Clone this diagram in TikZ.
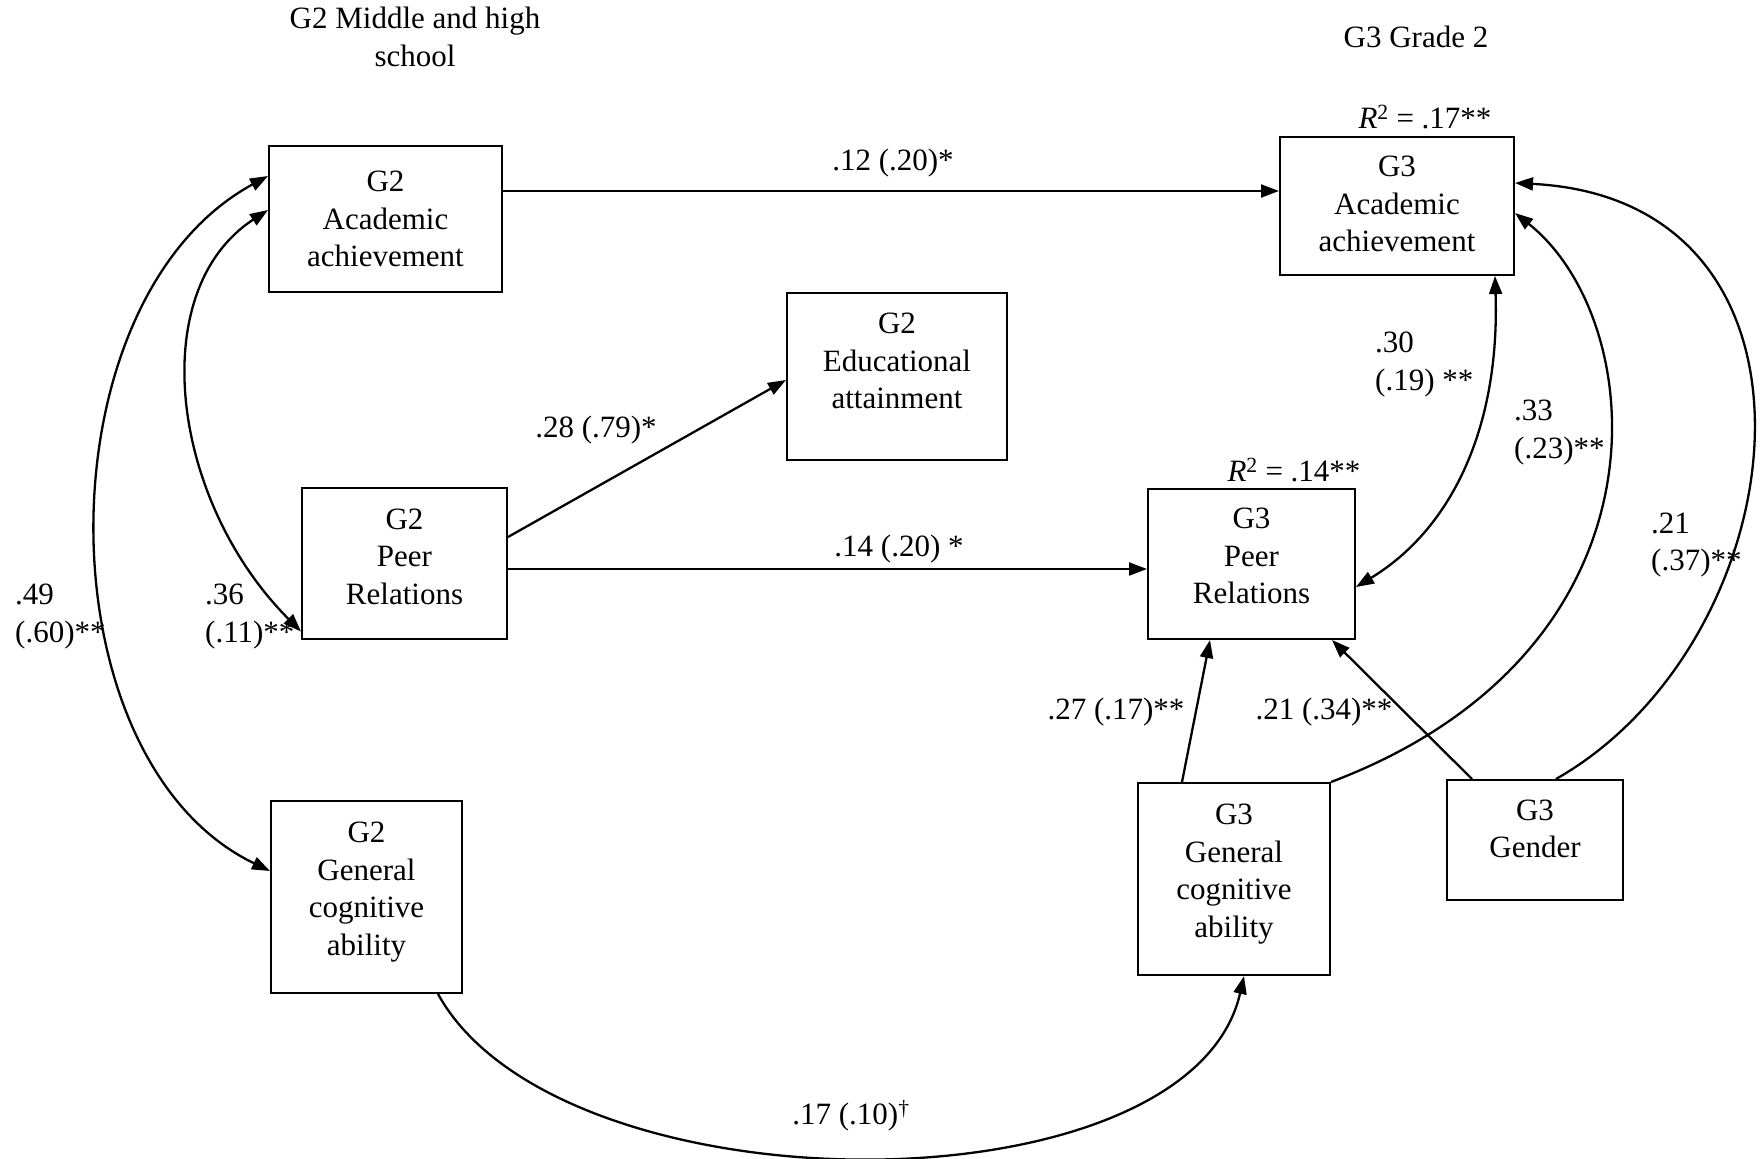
\documentclass[tikz,border=0pt]{standalone}
\usepackage{fontspec}
\setmainfont{Liberation Serif}
\usetikzlibrary{arrows.meta}
\begin{document}
\begin{tikzpicture}[x=1pt,y=-1pt,
  font=\fontsize{31pt}{37.5pt}\selectfont,
  box/.style={draw, line width=2pt, inner sep=0pt},
  txt/.style={inner sep=0pt, align=center},
  lab/.style={inner sep=0pt, align=left},
  arr/.style={line width=2.3pt, -{Triangle[length=18pt,width=13pt]}},
  darr/.style={line width=2.3pt, {Triangle[length=18pt,width=13pt]}-{Triangle[length=18pt,width=13pt]}}]
\useasboundingbox (0,0) rectangle (1762,1159);

% boxes
\node[box, minimum width=233, minimum height=146] (g2aa) at (385.5,219) {};
\node[box, minimum width=220, minimum height=167] (g2ea) at (897,376.5) {};
\node[box, minimum width=205, minimum height=151] (g2pr) at (404.5,563.5) {};
\node[box, minimum width=191, minimum height=192] (g2gc) at (366.5,897) {};
\node[box, minimum width=234, minimum height=138] (g3aa) at (1397,206) {};
\node[box, minimum width=207, minimum height=150] (g3pr) at (1251.5,564) {};
\node[box, minimum width=192, minimum height=192] (g3gc) at (1234,879) {};
\node[box, minimum width=176, minimum height=120] (g3g) at (1535,840) {};

% box texts
\node[txt] (g2aat) at (g2aa.center) {G2\\Academic\\achievement};
\node[txt] (g2eat) at ([yshift=15.5pt]g2ea.center) {G2\\Educational\\attainment};
\node[txt] (g2prt) at ([yshift=7pt]g2pr.center) {G2\\Peer\\Relations};
\node[txt] (g2gct) at ([yshift=5pt]g2gc.center) {G2\\General\\cognitive\\ability};
\node[txt] (g3aat) at ([yshift=2pt]g3aa.center) {G3\\Academic\\achievement};
\node[txt] (g3prt) at ([yshift=8pt]g3pr.center) {G3\\Peer\\Relations};
\node[txt] (g3gct) at ([yshift=5pt]g3gc.center) {G3\\General\\cognitive\\ability};
\node[txt] (g3gt) at ([yshift=11pt]g3g.center) {G3\\Gender};

% headings
\node[lab, align=center] (t1) at (415,37) {G2 Middle and high\\school};
\node[lab] (t2) at (1416,37) {G3 Grade 2};
\node[lab] (r2a) at (1425,117) {\textit{R}\textsuperscript{2} = .17**};
\node[lab] (r2b) at (1294,470) {\textit{R}\textsuperscript{2} = .14**};

% straight paths
\draw[arr] ([yshift=28pt]g2aa.east) -- ([yshift=15pt]g3aa.west);
\draw[arr] ([yshift=26.5pt]g2pr.east) -- ([yshift=-3.5pt]g2ea.west);
\draw[arr] ([yshift=-5.5pt]g2pr.east) -- ([yshift=-5pt]g3pr.west);
\draw[arr] ([xshift=-52pt]g3gc.north) -- ([xshift=-41.5pt]g3pr.south);
\draw[arr] ([xshift=-63pt]g3g.north) -- ([xshift=80.5pt]g3pr.south);

% curved paths
\draw[darr] ([yshift=43pt]g2aa.west) .. controls (40,300) and (40,760) .. ([yshift=26pt]g2gc.west);
\draw[darr] ([yshift=9pt]g2aa.west) .. controls (145,290) and (170,500) .. ([yshift=-68pt]g2pr.west);
\draw[arr] ([xshift=71.5pt]g2gc.south) .. controls (560,1215) and (1190,1215) .. ([xshift=10pt]g3gc.south);
\draw[darr] ([xshift=-20pt]g3aa.south east) .. controls (1500,430) and (1450,530) .. ([yshift=-23pt]g3pr.east);
\draw[arr] (g3gc.north east) .. controls (1680,650) and (1650,320) .. ([yshift=-7pt]g3aa.east);
\draw[arr] ([xshift=21pt]g3g.north) .. controls (1800,640) and (1850,200) .. ([yshift=23pt]g3aa.east);

% coefficient labels
\node[lab] (l12) at (893,163) {.12 (.20)*};
\node[lab] (l28) at (596,430) {.28 (.79)*};
\node[lab] (l14) at (899,549) {.14 (.20) *};
\node[lab, anchor=west] (l30) at (1375,364.5) {.30\\(.19) **};
\node[lab, anchor=west] (l33) at (1514,432.5) {.33\\(.23)**};
\node[lab, anchor=west] (l21b) at (1651,545) {.21\\(.37)**};
\node[lab, anchor=west] (l49) at (15,616.5) {.49\\(.60)**};
\node[lab, anchor=west] (l36) at (205,616.5) {.36\\(.11)**};
\node[lab] (l27) at (1116,712) {.27 (.17)**};
\node[lab] (l21a) at (1324,712) {.21 (.34)**};
\node[lab] (l17) at (851,1116) {.17 (.10)\textsuperscript{†}};
\end{tikzpicture}
\end{document}
